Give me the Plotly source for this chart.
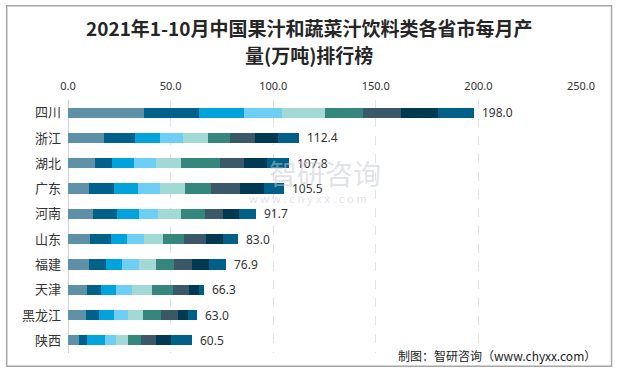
import plotly.graph_objects as go

provinces = ["四川", "浙江", "湖北", "广东", "河南", "山东", "福建", "天津", "黑龙江", "陕西"]
months = ["1-2月", "3月", "4月", "5月", "6月", "7月", "8月", "9月", "10月"]
totals = [198.0, 112.4, 107.8, 105.5, 91.7, 83.0, 76.9, 66.3, 63.0, 60.5]

# monthly values per province (rows follow `provinces`, columns follow `months`)
sichuan = [37.1, 26.7, 21.9, 18.5, 20.9, 18.5, 18.5, 18.4, 17.5]
zhejiang = [17.7, 15.0, 12.2, 11.2, 12.1, 10.7, 12.2, 11.1, 10.2]
hubei = [13.3, 8.3, 10.7, 10.7, 12.1, 19.0, 11.7, 11.2, 10.8]
guangdong = [10.4, 12.2, 11.7, 10.6, 12.2, 12.6, 14.1, 11.7, 10.0]
henan = [12.3, 11.7, 10.7, 9.2, 11.2, 11.7, 8.7, 7.8, 8.4]
shandong = [10.9, 10.2, 7.8, 8.3, 9.2, 10.2, 10.7, 8.3, 7.4]
fujian = [10.4, 8.2, 7.8, 8.3, 8.2, 8.8, 8.7, 8.3, 8.2]
tianjin = [9.4, 6.8, 7.3, 7.8, 9.7, 10.2, 7.8, 4.8, 2.5]
heilongjiang = [8.9, 6.3, 7.3, 6.8, 7.3, 8.8, 8.2, 4.9, 4.5]
shaanxi = [5.5, 3.9, 8.7, 5.4, 5.8, 6.3, 7.3, 7.3, 10.3]

rows = [sichuan, zhejiang, hubei, guangdong, henan, shandong, fujian, tianjin, heilongjiang, shaanxi]
colors = ["#5e90a8", "#00628a", "#00a3dc", "#6dcff6", "#a3d9d5",
          "#35877d", "#3a5868", "#003a52", "#006088"]

fig = go.Figure()
for j, m in enumerate(months):
    fig.add_trace(go.Bar(
        y=provinces, x=[r[j] for r in rows], name=m, orientation="h",
        marker=dict(color=colors[j], line=dict(width=0)),
        hoverinfo="x+y+name",
    ))

for p, t in zip(provinces, totals):
    fig.add_annotation(x=t, y=p, text=f"{t:.1f}", showarrow=False,
                       xanchor="left", xshift=6,
                       font=dict(size=12, color="#333333", family="Noto Sans, Arial"))

fig.update_layout(
    barmode="stack", bargap=0.6,
    width=617, height=371,
    margin=dict(l=68, r=36, t=100, b=18, autoexpand=False),
    paper_bgcolor="white", plot_bgcolor="white",
    showlegend=False,
    xaxis=dict(range=[0, 250], side="top", dtick=50, tickformat=".1f",
               showgrid=True, gridcolor="#e3e3e3", griddash="dash", gridwidth=1,
               zeroline=True, zerolinecolor="#d0d0d0", zerolinewidth=1,
               showline=False, ticks="", automargin=False, ticklabelstandoff=7,
               tickfont=dict(size=11, color="#333333", family="Noto Sans, Arial")),
    yaxis=dict(autorange="reversed", showgrid=False, ticks="", showline=False,
               automargin=False, ticklabelstandoff=6,
               tickfont=dict(size=13, color="#333333", family="Noto Sans CJK SC")),
    shapes=[dict(type="rect", xref="paper", yref="paper", x0=-0.1195, x1=1.0595,
                 y0=-0.0526, y1=1.3727, line=dict(color="#a6a6a6", width=1.5))],
)

# title (two lines)
title_lines = ["2021年1-10月中国果汁和蔬菜汁饮料类各省市每月产", "量(万吨)排行榜"]
for line, yy in zip(title_lines, [1.2846, 1.1779]):
    fig.add_annotation(xref="paper", yref="paper", x=0.470, y=yy, text=f"<b>{line}</b>",
                       showarrow=False, xanchor="center", yanchor="middle",
                       font=dict(size=19, color="#262626", family="Noto Sans CJK SC"))

# watermark
fig.add_annotation(xref="paper", yref="paper", x=0.501, y=0.71, text="智研咨询",
                   showarrow=False, xanchor="center", yanchor="middle",
                   font=dict(size=28, color="rgba(195,200,210,0.5)", family="Noto Sans CJK SC"))
fig.add_annotation(xref="paper", yref="paper", x=0.468, y=0.61, text="w w w . c h y x x . c o m",
                   showarrow=False, xanchor="center", yanchor="middle",
                   font=dict(size=11, color="rgba(195,200,210,0.5)", family="Noto Sans, Arial"))
# source note
fig.add_annotation(xref="paper", yref="paper", x=1.0331, y=-0.0107, xanchor="right", yanchor="middle",
                   text="制图：智研咨询（www.chyxx.com）", showarrow=False,
                   font=dict(size=12, color="#222222", family="Noto Sans CJK SC"))

fig.write_html("out.html", config={"displayModeBar": False},
               post_script="document.body.style.margin='0px';")
